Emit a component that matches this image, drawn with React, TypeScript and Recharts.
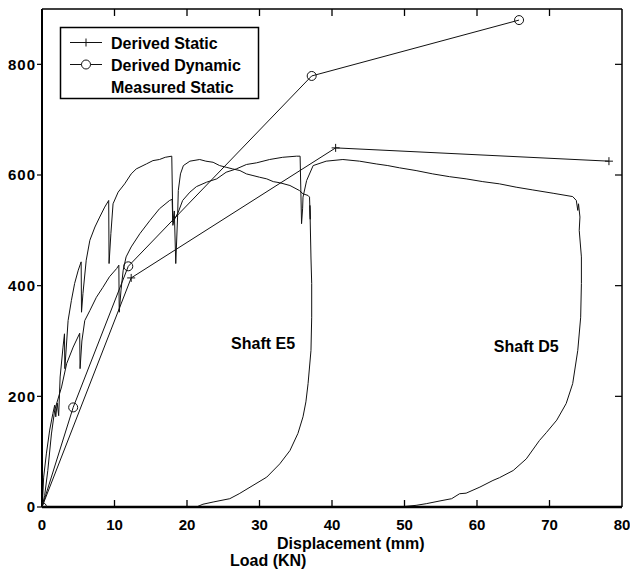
import { LineChart, Line, XAxis, YAxis, ReferenceDot, ReferenceLine } from 'recharts'

const FONT = '"Liberation Sans", Arial, Helvetica, sans-serif'

const xTicks = [0, 10, 20, 30, 40, 50, 60, 70, 80]
const yTicks = [0, 200, 400, 600, 800]
const Y_MAX = 900
const TICK_LEN = 12.6 // inward tick length in load units (~7px)

// [displacement (mm), load (kN)]
const derivedStatic: [number, number][] = [[0, 0], [12.3, 414], [40.5, 649], [78.2, 625]]
const derivedDynamic: [number, number][] = [[0, 0], [4.3, 180], [11.9, 435], [37.2, 779], [65.8, 880]]

const shaftE5: [number, number][] = [
  [0, 0], [0.05, 3], [0.23, 54], [0.6, 96], [1.06, 139], [1.5, 169], [1.75, 184], [1.9, 163],
  [2.1, 188], [2.3, 165], [2.5, 235], [2.9, 289], [3.1, 313], [3.15, 250], [3.6, 337], [4.05, 373],
  [4.5, 404], [5.0, 428], [5.4, 443], [5.45, 352], [5.65, 386], [6.1, 446], [6.6, 482], [7.3, 506],
  [7.96, 524], [8.65, 542], [9.2, 554], [9.25, 440], [9.5, 494], [9.8, 548], [10.5, 569], [11.4, 584],
  [12.3, 602], [13.0, 611], [14.4, 620], [15.3, 626], [16.2, 628], [17.0, 632], [17.9, 634],
  [18.05, 515], [18.25, 535], [18.45, 440],
  [18.7, 524], [18.8, 572], [19.1, 602], [19.5, 617], [20.4, 625], [21.75, 628], [22.6, 625],
  [23.6, 623], [24.5, 617], [25.4, 614], [26.3, 611], [27.3, 608], [28.2, 602], [29.1, 599],
  [30.0, 596], [31.0, 593], [31.9, 588], [32.8, 586], [34.2, 581], [35.5, 572], [36.0, 566],
  [36.7, 563], [36.9, 560], [37.0, 520], [36.95, 545], [37.1, 450], [37.2, 404], [37.2, 343],
  [37.1, 283], [36.9, 253], [36.7, 223], [36.4, 190], [36.0, 163], [35.3, 133], [34.2, 102],
  [32.8, 78], [31.0, 54], [29.1, 39], [27.2, 24], [25.9, 15], [23.6, 9], [22.2, 5], [21.3, 0], [19.9, 0],
]

const shaftD5: [number, number][] = [
  [0, 0], [0.37, 21], [0.8, 66], [1.3, 132], [1.75, 175], [2.7, 217], [3.4, 259], [4.3, 289],
  [5.2, 314], [5.25, 250], [5.5, 300], [5.9, 337], [6.6, 355], [7.5, 379], [8.4, 397], [9.3, 416],
  [10.3, 431], [10.6, 437], [10.65, 352], [10.9, 392], [11.2, 428], [11.6, 452], [12.3, 470],
  [13.5, 494], [14.9, 518], [16.2, 539], [17.6, 554], [17.95, 556], [18.05, 509], [18.2, 518],
  [18.8, 533], [19.4, 554], [20.4, 569], [21.3, 579], [22.7, 587], [24.1, 593], [25.4, 605],
  [26.8, 611], [28.2, 619], [29.6, 622], [31.4, 628], [33.2, 632], [35.1, 634], [35.6, 634],
  [35.8, 512], [35.95, 540], [36.0, 560], [36.5, 590], [37.4, 617], [39.2, 625], [41.5, 628],
  [43.8, 625], [46.1, 620], [47.7, 617], [49.3, 613], [51.6, 608], [53.9, 602], [56.2, 597],
  [58.5, 593], [60.8, 588], [63.1, 584], [65.4, 578], [67.7, 573], [70.5, 567], [73.2, 561],
  [73.7, 554], [73.9, 536], [74.0, 548], [74.2, 524], [74.1, 500], [74.4, 452], [74.4, 404],
  [74.3, 343], [73.9, 283], [73.2, 223], [72.3, 187], [71.0, 157], [69.6, 135], [68.6, 120],
  [66.8, 87], [65.0, 66], [63.1, 53], [62.2, 48], [60.4, 36], [58.5, 25], [57.6, 24], [56.5, 15],
  [54.9, 11], [53.0, 6], [51.6, 3], [49.3, 0], [46.1, 0],
]

const rows = (pts: [number, number][]) => pts.map(([d, l]) => ({ d, l }))

const ink = '#111'

function PlusDot(p: any) {
  const { cx, cy, index } = p
  if (cx == null || cy == null) return <g key={index} />
  return <path key={index} d={`M${cx - 4},${cy}H${cx + 4}M${cx},${cy - 4}V${cy + 4}`} stroke={ink} strokeWidth={1} fill="none" />
}

function CircleDot(p: any) {
  const { cx, cy, index } = p
  if (cx == null || cy == null) return <g key={index} />
  return <circle key={index} cx={cx} cy={cy} r={4.5} stroke={ink} strokeWidth={1} fill="none" />
}

const tickFont = { fill: '#000', fontSize: 15, fontWeight: 700, fontFamily: FONT }

export default function App() {
  // inner tick marks on the bottom and top edges (interior ticks only)
  const inner = xTicks.slice(1, -1)
  return (
    <div style={{ position: 'absolute', left: 0, top: 0, width: 630, height: 570, background: '#fff' }}>
      <LineChart width={630} height={570} margin={{ top: 8, right: 0, bottom: 0, left: 0 }}>
        <XAxis xAxisId="b" type="number" dataKey="d" domain={[0, 80]} ticks={xTicks} allowDataOverflow
          height={63} tickSize={0} tickMargin={12} tick={tickFont} tickLine={false}
          axisLine={{ stroke: '#000', strokeWidth: 2.5 }} />
        <XAxis xAxisId="t" orientation="top" type="number" dataKey="d" domain={[0, 80]} ticks={xTicks} allowDataOverflow
          height={1} tick={false} tickLine={false}
          axisLine={{ stroke: '#000', strokeWidth: 1.5 }} />
        <YAxis yAxisId="l" type="number" dataKey="l" domain={[0, Y_MAX]} ticks={yTicks} allowDataOverflow
          width={42} tickSize={5} tickMargin={1} tick={{ ...tickFont, letterSpacing: 1 }}
          axisLine={{ stroke: '#000', strokeWidth: 2 }} tickLine={{ stroke: '#000', strokeWidth: 1.2 }} />
        <YAxis yAxisId="r" orientation="right" type="number" dataKey="l" domain={[0, Y_MAX]} ticks={yTicks} allowDataOverflow
          width={8} tickSize={-7} tick={() => <g />}
          axisLine={{ stroke: '#000', strokeWidth: 1.5 }} tickLine={{ stroke: '#000', strokeWidth: 1.2 }} />

        {inner.map(t => (
          <ReferenceLine key={`b${t}`} xAxisId="b" yAxisId="l" stroke="#000" strokeWidth={1.3} ifOverflow="visible"
            segment={[{ x: t, y: 0 }, { x: t, y: TICK_LEN }]} />
        ))}
        {inner.map(t => (
          <ReferenceLine key={`t${t}`} xAxisId="b" yAxisId="l" stroke="#000" strokeWidth={1.3} ifOverflow="visible"
            segment={[{ x: t, y: Y_MAX }, { x: t, y: Y_MAX - TICK_LEN }]} />
        ))}

        <Line xAxisId="b" yAxisId="l" data={rows(shaftE5)} dataKey="l" name="Measured Static"
          type="linear" stroke={ink} strokeWidth={1} dot={false} isAnimationActive={false} />
        <Line xAxisId="b" yAxisId="l" data={rows(shaftD5)} dataKey="l" name="Measured Static"
          type="linear" stroke={ink} strokeWidth={1} dot={false} isAnimationActive={false} />
        <Line xAxisId="b" yAxisId="l" data={rows(derivedStatic)} dataKey="l" name="Derived Static"
          type="linear" stroke={ink} strokeWidth={1} dot={PlusDot} isAnimationActive={false} />
        <Line xAxisId="b" yAxisId="l" data={rows(derivedDynamic)} dataKey="l" name="Derived Dynamic"
          type="linear" stroke={ink} strokeWidth={1} dot={CircleDot} isAnimationActive={false} />

        <ReferenceDot xAxisId="b" yAxisId="l" x={30.5} y={296} r={1} fill="none" stroke="none"
          label={{ value: 'Shaft E5', position: 'center', fill: '#000', fontSize: 16, fontWeight: 700, fontFamily: FONT }} />
        <ReferenceDot xAxisId="b" yAxisId="l" x={66.8} y={290} r={1} fill="none" stroke="none"
          label={{ value: 'Shaft D5', position: 'center', fill: '#000', fontSize: 16, fontWeight: 700, fontFamily: FONT }} />
      </LineChart>

      <svg width={630} height={570} style={{ position: 'absolute', left: 0, top: 0, pointerEvents: 'none' }}
        fontFamily={FONT} fontWeight={700} fontSize={16}>
        {/* legend */}
        <rect x={60.5} y={27.5} width={198} height={71} fill="#fff" stroke="#000" strokeWidth={1.5} />
        <line x1={70} x2={102} y1={42.5} y2={42.5} stroke={ink} />
        <path d="M82,42.5H90M86,38.5V46.5" stroke={ink} />
        <text x={111} y={48.5}>Derived Static</text>
        <line x1={70} x2={102} y1={64.5} y2={64.5} stroke={ink} />
        <circle cx={86} cy={64.5} r={4.5} fill="#fff" stroke={ink} />
        <text x={111} y={70.5}>Derived Dynamic</text>
        <text x={111} y={93}>Measured Static</text>
        {/* axis titles */}
        <text x={277} y={548.5}>Displacement (mm)</text>
        <text x={230} y={565.5}>Load (KN)</text>
      </svg>
    </div>
  )
}
